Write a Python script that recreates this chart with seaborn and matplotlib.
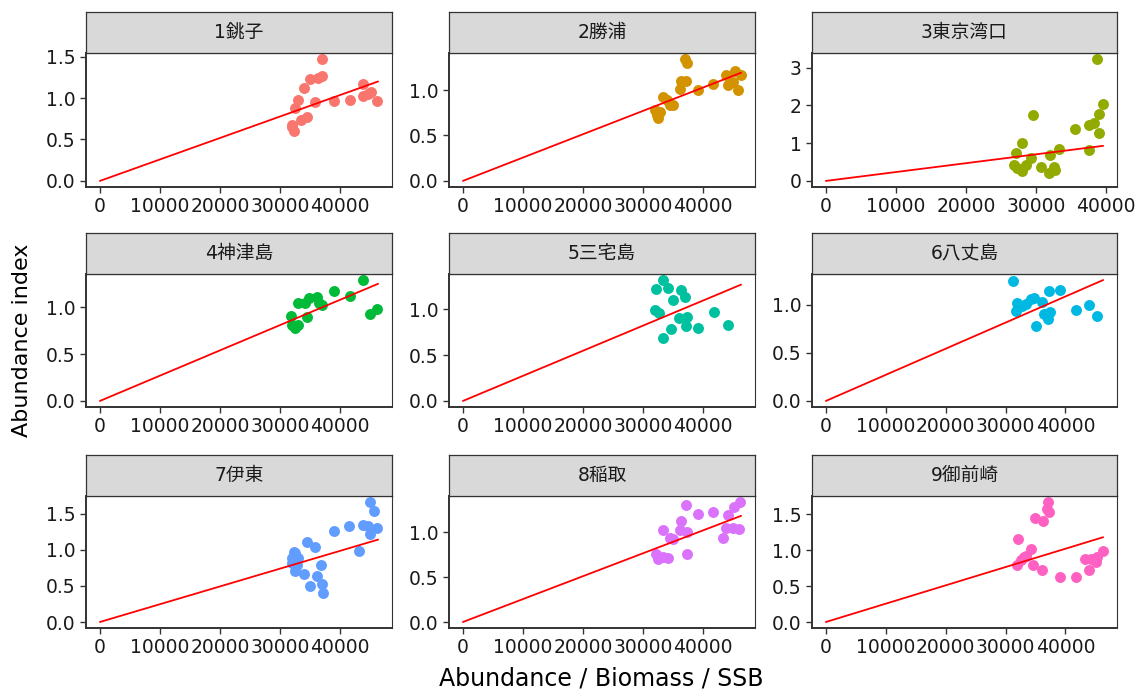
import numpy as np
import pandas as pd
import matplotlib
matplotlib.use("Agg")
import matplotlib.pyplot as plt
from matplotlib.ticker import MultipleLocator, FixedLocator, FormatStrFormatter
import seaborn as sns

# --- data (x = SSB, y = abundance index) ---
areas = ["1銚子", "2勝浦", "3東京湾口", "4神津島", "5三宅島", "6八丈島", "7伊東", "8稲取", "9御前崎"]
colours = ["#F8766D", "#D39200", "#93AA00", "#00BA38", "#00C19F",
           "#00B9E3", "#619CFF", "#DB72FB", "#FF61C3"]

x1 = [31920, 32020, 32300, 32470, 33010, 33410, 33950, 34500, 34890, 35880, 36320,
      36980, 36980, 38900, 41550, 43860, 43860, 44700, 45130, 46060]
y1 = [0.65, 0.68, 0.60, 0.88, 0.98, 0.73, 1.12, 0.77, 1.23, 0.95, 1.24,
      1.27, 1.47, 0.97, 0.98, 1.17, 1.02, 1.05, 1.07, 0.96]

x2 = [31980, 32250, 32530, 32800, 33360, 34000, 34470, 35020, 36130, 36300, 37120,
      36960, 37340, 39170, 41660, 43870, 44150, 45260, 44980, 45810, 46300]
y2 = [0.78, 0.73, 0.69, 0.76, 0.92, 0.89, 0.83, 0.84, 1.01, 1.10, 1.10,
      1.34, 1.30, 1.00, 1.07, 1.17, 1.05, 1.21, 1.09, 1.00, 1.17]

x3 = [26950, 27100, 27280, 28000, 28040, 28610, 29320, 29660, 30750, 31930, 32030,
      32650, 32700, 33260, 35630, 37630, 37630, 38340, 38960, 39050, 38800, 39620]
y3 = [0.42, 0.73, 0.34, 1.00, 0.27, 0.42, 0.60, 1.75, 0.38, 0.22, 0.69,
      0.38, 0.29, 0.85, 1.37, 1.49, 0.81, 1.53, 1.28, 1.78, 3.23, 2.04]

x4 = [31760, 32020, 32470, 33010, 33010, 34200, 34500, 34780, 36150, 36430, 36980,
      38900, 41550, 43860, 44960, 46060]
y4 = [0.91, 0.81, 0.78, 0.81, 1.04, 1.05, 0.90, 1.10, 1.11, 1.05, 1.02,
      1.17, 1.12, 1.29, 0.93, 0.98]

x5 = [31980, 32140, 32700, 33250, 33250, 34190, 34580, 35020, 36020, 36240, 36960,
      37120, 37340, 39170, 41770, 44040]
y5 = [0.99, 1.22, 0.96, 1.32, 0.69, 1.23, 0.79, 1.10, 0.91, 1.21, 1.14,
      0.82, 0.92, 0.80, 0.97, 0.83]

x6 = [31300, 31810, 31980, 32810, 33360, 34190, 34740, 35020, 36130, 36400, 37120,
      37230, 37510, 39060, 41770, 43980, 45250]
y6 = [1.25, 0.94, 1.02, 0.99, 1.01, 1.06, 1.07, 0.78, 1.03, 0.91, 0.85,
      1.15, 0.93, 1.16, 0.95, 1.00, 0.88]

x7 = [31920, 32020, 32300, 32470, 32470, 32800, 33010, 33950, 34500, 34890, 35880,
      36150, 36870, 36980, 37140, 39020, 41500, 43150, 43860, 44690, 44960, 44960,
      45670, 46060]
y7 = [0.82, 0.89, 0.97, 0.95, 0.70, 0.79, 0.89, 0.66, 1.10, 0.50, 1.04,
      0.63, 0.79, 0.53, 0.40, 1.26, 1.33, 0.98, 1.34, 1.33, 1.22, 1.66,
      1.53, 1.30]

x8 = [32140, 32530, 33250, 34190, 33250, 34470, 35020, 36130, 36240, 37120, 37340,
      37230, 39170, 41660, 43320, 44150, 43870, 45150, 44980, 46080, 45980]
y8 = [0.76, 0.70, 0.73, 0.71, 1.03, 0.94, 0.93, 1.03, 1.13, 1.31, 1.01,
      0.76, 1.21, 1.23, 0.94, 1.19, 1.05, 1.28, 1.05, 1.34, 1.04]

x9 = [32140, 31870, 32530, 33080, 33360, 34190, 34580, 34910, 36130, 36240, 37120,
      36960, 37340, 39170, 41770, 43210, 43980, 44320, 45090, 45250, 46300]
y9 = [1.15, 0.79, 0.86, 0.90, 0.92, 1.02, 0.79, 1.45, 0.73, 1.41, 1.67,
      1.57, 1.53, 0.62, 0.62, 0.87, 0.73, 0.87, 0.83, 0.90, 0.99]

# proportional fit (index = q * SSB), q per 10000 of SSB, and the SSB range of each line
q_per_10k = [0.2592, 0.2570, 0.2347, 0.2700, 0.2743, 0.2721, 0.2462, 0.2560, 0.2549]
ssb_end = [46300, 46300, 39620, 46300, 46300, 46300, 46300, 46300, 46300]

xs = [x1, x2, x3, x4, x5, x6, x7, x8, x9]
ys = [y1, y2, y3, y4, y5, y6, y7, y8, y9]

# --- style ---
sns.set_theme(style="white")
plt.rcParams['font.family'] = ['DejaVu Sans', 'Noto Sans CJK JP']
plt.rcParams['axes.unicode_minus'] = False

W, H = 1142, 693
fig = plt.figure(figsize=(W / 100, H / 100), dpi=100)
fig.patch.set_facecolor("white")

cols_left = [86, 449, 812]
cols_w = [306, 306, 305]
rows_top = [53, 274, 496]
rows_h = [134, 133, 132]
strip_h = 41
dark = "#333333"


def px_axes(left, top, width, height):
    return fig.add_axes([left / W, 1 - (top + height) / H, width / W, height / H])


for i, name in enumerate(areas):
    r, c = divmod(i, 3)
    ax = px_axes(cols_left[c], rows_top[r], cols_w[c], rows_h[r])

    df = pd.DataFrame({"ssb": xs[i], "index": ys[i]})
    sns.scatterplot(data=df, x="ssb", y="index", color=colours[i], s=62,
                    linewidth=0, ax=ax, zorder=3)

    line = pd.DataFrame({"ssb": [0.0, ssb_end[i]]})
    line["fit"] = line["ssb"] * q_per_10k[i] / 10000
    sns.lineplot(data=line, x="ssb", y="fit", color="red", linewidth=1.3, ax=ax, zorder=4)

    # ggplot-like 5% expansion
    xmax = max(max(xs[i]), ssb_end[i])
    ax.set_xlim(-0.05 * xmax, xmax * 1.05)
    ymax = max(max(ys[i]), line["fit"].max())
    ax.set_ylim(-0.05 * ymax, ymax * 1.05)

    ax.xaxis.set_major_locator(FixedLocator([0, 10000, 20000, 30000, 40000]))
    ax.xaxis.set_major_formatter(FormatStrFormatter("%d"))
    if ymax > 2:
        ax.yaxis.set_major_locator(MultipleLocator(1))
        ax.yaxis.set_major_formatter(FormatStrFormatter("%d"))
    else:
        ax.yaxis.set_major_locator(MultipleLocator(0.5))
        ax.yaxis.set_major_formatter(FormatStrFormatter("%.1f"))

    ax.set_xlabel("")
    ax.set_ylabel("")
    ax.grid(False)
    ax.set_facecolor("white")
    for side in ["left", "bottom"]:
        ax.spines[side].set_color(dark)
        ax.spines[side].set_linewidth(1.4)
    for side in ["top", "right"]:
        ax.spines[side].set_color(dark)
        ax.spines[side].set_linewidth(0.8)
    ax.tick_params(axis="both", which="major", direction="out", length=4.5, width=1.0,
                   color=dark, labelsize=13.5, labelcolor="#1A1A1A", pad=3,
                   bottom=True, left=True)

    # facet strip
    sax = px_axes(cols_left[c], rows_top[r] - strip_h, cols_w[c], strip_h)
    sax.set_facecolor("#D9D9D9")
    sax.set_xticks([])
    sax.set_yticks([])
    for sp in sax.spines.values():
        sp.set_color(dark)
        sp.set_linewidth(0.9)
    sax.text(0.5, 0.5, name, ha="center", va="center", fontsize=13.5,
             color="#1A1A1A", transform=sax.transAxes)

fig.text(601 / W, 1 - 678 / H, "Abundance / Biomass / SSB", ha="center", va="center",
         fontsize=17, color="black")
fig.text(22 / W, 1 - 340 / H, "Abundance index", ha="center", va="center",
         rotation=90, fontsize=16, color="black")

fig.savefig("out.png", dpi=100, facecolor="white")
